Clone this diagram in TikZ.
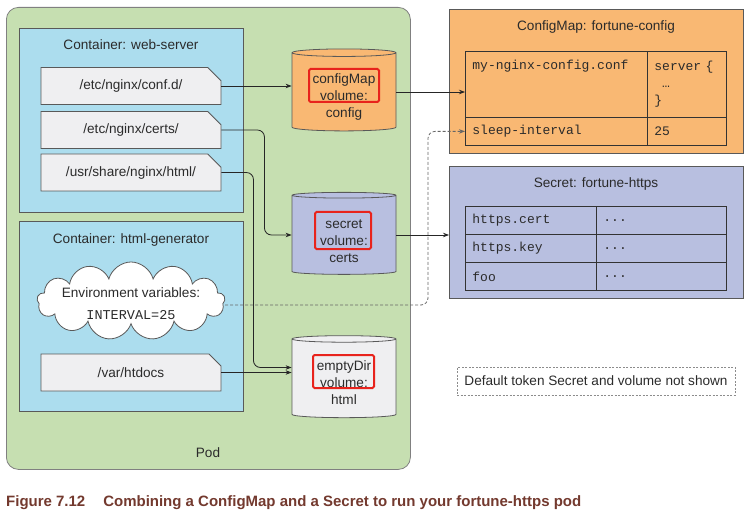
\documentclass[tikz,border=0pt]{standalone}
\usepackage{fontspec}
\setmainfont{Liberation Sans}
\setmonofont{Liberation Mono}
\usepackage{graphicx}
\usepackage{xcolor}
\usetikzlibrary{arrows.meta,positioning,calc,shapes.geometric,shapes.misc,shapes.symbols}

\definecolor{podgreen}{HTML}{C6DFB1}
\definecolor{ctblue}{HTML}{ACDDEE}
\definecolor{docgray}{HTML}{EFEFF1}
\definecolor{cmorange}{HTML}{F9B873}
\definecolor{seclav}{HTML}{B8BFE0}
\definecolor{hlred}{HTML}{E8231C}
\definecolor{txtgray}{HTML}{2B2B2B}
\definecolor{capred}{HTML}{73392E}

% three centred lines inside a volume, lowered a bit
\newcommand\voltext[2]{\raisebox{#1}[\height][\depth]{\begin{tabular}{@{}c@{}}#2\end{tabular}}}

\tikzset{
  lbl/.style={font=\fontsize{13.6}{17}\selectfont, text=txtgray, inner sep=0pt},
  mono/.style={font=\ttfamily\fontsize{13}{17}\selectfont, text=txtgray},
  podbox/.style={draw=black!50, fill=podgreen, rounded corners=12pt, anchor=north west, line width=0.8pt},
  ctbox/.style={draw=black!65, fill=ctblue, anchor=north west, line width=0.8pt},
  mountbox/.style={lbl, chamfered rectangle, chamfered rectangle corners=north east,
    chamfered rectangle sep=7pt, draw=black!65, fill=docgray, line width=0.9pt,
    minimum width=180pt, minimum height=37pt},
  volcyl/.style={lbl, cylinder, shape border rotate=90, aspect=0.12, draw=black!65,
    line width=0.8pt, minimum width=104pt, minimum height=82pt},
  hlbox/.style={draw=hlred, line width=2pt, rounded corners=1.5pt},
  objbox/.style={draw=black!65, anchor=north west, line width=0.8pt},
  cell/.style={mono, draw=black!80, anchor=north west, line width=0.8pt, inner xsep=7pt, align=left},
  link/.style={draw=black!85, line width=0.8pt, rounded corners=7pt, -{Stealth[length=6pt,width=4.5pt]}},
  dlink/.style={link, draw=black!60, dash pattern=on 3pt off 2pt}
}

\begin{document}
\begin{tikzpicture}[x=1pt,y=-1pt]
\useasboundingbox (0,0) rectangle (752,513);
% pod
\node[podbox, minimum width=404pt, minimum height=462pt] (pod) at (6,7) {};
\node[lbl] (podlbl) at (208,453) {Pod};
% container web-server
\node[ctbox, minimum width=224pt, minimum height=184pt] (websrv) at (19,28) {};
\node[lbl] (websrvtitle) at (131,45) {Container: web-server};
\node[mountbox] (confd) at (131,86) {/etc/nginx/conf.d/};
\node[mountbox] (certs) at (131,130) {/etc/nginx/certs/};
\node[mountbox] (usr) at (131,172.5) {/usr/share/nginx/html/};
% container html-generator
\node[ctbox, minimum width=224pt, minimum height=190pt] (htmlgen) at (19,221) {};
\node[lbl] (htmlgentitle) at (131,240) {Container: html-generator};
\node[cloud, cloud puffs=13, cloud ignores aspect, draw=black!65, fill=white, line width=0.8pt,
  minimum width=188pt, minimum height=78pt] (env) at (131,301) {};
\node[lbl, align=center] (envtxt) at (131,304)
  {Environment variables:\\[5pt]{\ttfamily\fontsize{13.5}{17}\selectfont INTERVAL=25}};
\node[mountbox] (htdocs) at (131,372.5) {/var/htdocs};
% volumes
\node[volcyl, fill=cmorange] (cfgvol) at (344,92) {\voltext{-5pt}{configMap\\volume:\\config}};
\node[volcyl, fill=seclav] (secvol) at (344,235) {\voltext{-7.5pt}{secret\\volume:\\certs}};
\node[volcyl, fill=docgray] (edvol) at (344,378.5) {\voltext{-5.5pt}{emptyDir\\volume:\\html}};
\draw[hlbox] (309,69) rectangle (379,102);
\draw[hlbox] (315,212) rectangle (371,249);
\draw[hlbox] (313,355) rectangle (374,388);
% configmap
\node[objbox, fill=cmorange, minimum width=294pt, minimum height=144pt] (cfgmap) at (449,9) {};
\node[lbl] (cfgmaptitle) at (596,27) {ConfigMap: fortune-config};
\node[cell, minimum width=182pt, minimum height=66pt, text width=168pt] (cfgkey) at (465,51)
  {my-nginx-config.conf\\\strut\\\strut};
\node[cell, minimum width=79pt, minimum height=66pt, text width=65pt] (cfgval) at (647,51)
  {server \{\\\phantom{s}…\\\}};
\node[cell, minimum width=182pt, minimum height=28pt, text width=168pt] (sleepkey) at (465,117) {sleep-interval};
\node[cell, minimum width=79pt, minimum height=28pt, text width=65pt] (sleepval) at (647,117) {25};
% secret
\node[objbox, fill=seclav, minimum width=294pt, minimum height=132pt] (secret) at (449,166) {};
\node[lbl] (secrettitle) at (596,184) {Secret: fortune-https};
\node[cell, minimum width=131pt, minimum height=28pt, text width=117pt] (certkey) at (465,206) {https.cert};
\node[cell, minimum width=130pt, minimum height=28pt, text width=116pt] (certval) at (596,206) {...};
\node[cell, minimum width=131pt, minimum height=28pt, text width=117pt] (keykey) at (465,234) {https.key};
\node[cell, minimum width=130pt, minimum height=28pt, text width=116pt] (keyval) at (596,234) {...};
\node[cell, minimum width=131pt, minimum height=28pt, text width=117pt] (fookey) at (465,262) {foo};
\node[cell, minimum width=130pt, minimum height=28pt, text width=116pt] (fooval) at (596,262) {...};
% note
\node[lbl, draw=black!45, dash pattern=on 2pt off 1.5pt, line width=0.6pt, minimum width=278pt,
  minimum height=28pt] (note) at (596,381) {Default token Secret and volume not shown};
% connectors
\draw[link] (confd.east) -- (confd.east -| cfgvol.west);
\draw[link] (certs.east) -- ++(43,0) |- (secvol.west);
\draw[link] (usr.east) -- ++(32,0) |- ($(edvol.west)+(0,-11)$);
\draw[link] (htdocs.east) -- (htdocs.east -| edvol.west);
\draw[link] (cfgvol.east) -- (cfgvol.east -| cfgkey.west);
\draw[link] (secvol.east) -- (secvol.east -| secret.west);
\draw[dlink] ($(env.east)+(0,4)$) -| ($(sleepkey.west)+(-37,0)$) -- (sleepkey.west);
% caption
\node[anchor=west, inner sep=0pt, text=capred, font=\bfseries\fontsize{15}{17}\selectfont] (caption) at (6,503)
  {\resizebox{575pt}{\height}{Figure 7.12\hspace{1.2em}Combining a ConfigMap and a Secret to run your fortune-https pod}};
\end{tikzpicture}
\end{document}
